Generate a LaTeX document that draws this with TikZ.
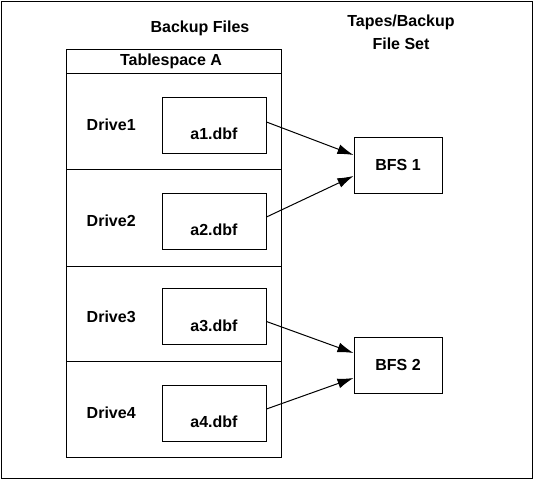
\documentclass[tikz,border=0pt]{standalone}
\usepackage{fontspec}
\setmainfont{Liberation Sans}
\usetikzlibrary{arrows.meta,positioning}

\begin{document}
\begin{tikzpicture}[x=1pt, y=-1pt, line width=1pt,
    every node/.style={font=\fontsize{16}{23}\selectfont\bfseries},
    filebox/.style={draw, minimum width=104pt, minimum height=56pt, inner sep=0pt},
    setbox/.style={draw, minimum width=88pt, minimum height=56pt, inner sep=0pt},
    toset/.style={-{Latex[length=16pt,width=10pt]}}]

    % Page frame
    \useasboundingbox (0,0) rectangle (536,482);
    \draw (1.5,1.5) rectangle (532.5,478.5);

    % Headings
    \node (backupfiles) at (200,28) {Backup Files};
    \node[align=center] (tapes) at (401,32.5) {Tapes/Backup\\File Set};

    % Tablespace box with its four rows
    \draw (66,49) rectangle (281,457);
    \draw (66,73) -- (281,73);
    \node (tblspc) at (171,61) {Tablespace A};
    \foreach \y in {169,266,361}
        \draw (66,\y) -- (281,\y);

    % Drives and their files
    \foreach \i/\y in {1/125,2/221,3/316.5,4/413} {
        \node[filebox] (file\i) at (214,\y) {};
        \node (dbf\i) at ([yshift=-9pt]file\i.center) {a\i.dbf};
        \node[left=22pt of file\i] (drive\i) {Drive\i};
    }

    % Backup file sets
    \node[setbox] (bfs1) at (398,165) {BFS 1};
    \node[setbox] (bfs2) at (398,365) {BFS 2};

    % Files to file sets
    \draw[toset] ([yshift=3pt]file1.east) -- ([yshift=10pt]bfs1.west);
    \draw[toset] ([yshift=4pt]file2.east) -- ([yshift=-11pt]bfs1.west);
    \draw[toset] ([yshift=-5pt]file3.east) -- ([yshift=12pt]bfs2.west);
    \draw[toset] ([yshift=4pt]file4.east) -- ([yshift=-13pt]bfs2.west);

\end{tikzpicture}
\end{document}
